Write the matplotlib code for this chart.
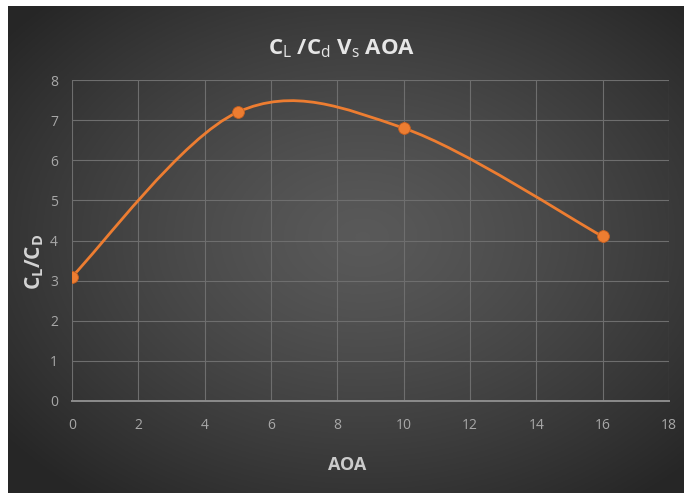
import numpy as np
import matplotlib.pyplot as plt
from matplotlib.path import Path
from matplotlib.patches import PathPatch

# --- Data ---
aoa = [0, 5, 10, 16]
cl_cd = [3.1, 7.2, 6.8, 4.1]
x_ticks = [0, 2, 4, 6, 8, 10, 12, 14, 16, 18]
y_ticks = [0, 1, 2, 3, 4, 5, 6, 7, 8]

ORANGE = "#ED7D31"
FAM = "Open Sans"

plt.rcParams["font.family"] = [FAM, "DejaVu Sans"]
plt.rcParams["mathtext.fontset"] = "custom"
plt.rcParams["mathtext.rm"] = FAM
plt.rcParams["mathtext.bf"] = FAM + ":bold"


def smooth_path(xs, ys):
    # Catmull-Rom style cubic Bezier through the points (office "smoothed line")
    pts = np.column_stack([xs, ys]).astype(float)
    ext = np.vstack([pts[0], pts, pts[-1]])
    verts = [tuple(pts[0])]
    codes = [Path.MOVETO]
    for i in range(len(pts) - 1):
        p0, p1, p2, p3 = ext[i], ext[i + 1], ext[i + 2], ext[i + 3]
        c1 = p1 + (p2 - p0) / 6.0
        c2 = p2 - (p3 - p1) / 6.0
        verts += [tuple(c1), tuple(c2), tuple(p2)]
        codes += [Path.CURVE4] * 3
    return Path(verts, codes)


W, H = 684, 493
fig = plt.figure(figsize=(W / 100, H / 100), dpi=100, facecolor="white")

# dark radial-gradient backdrop
bg = fig.add_axes([8 / W, 0, (W - 8) / W, (H - 6) / H])
bg.set_axis_off()
gx, gy = np.meshgrid(np.linspace(-1, 1, 400), np.linspace(-1, 1, 300))
r = np.sqrt((gx - 0.05) ** 2 + (gy + 0.05) ** 2)
shade = 0.35 - 0.2 * np.clip(r / 1.35, 0, 1) ** 1.3
bg.imshow(np.dstack([shade] * 3), aspect="auto", extent=[0, 1, 0, 1])
bg.set_xlim(0, 1)
bg.set_ylim(0, 1)

ax = fig.add_axes([72 / W, 1 - 401 / H, 597 / W, 321 / H])
ax.set_facecolor("none")
ax.set_xlim(0, 18)
ax.set_ylim(0, 8)
ax.set_xticks(x_ticks)
ax.set_yticks(y_ticks)
ax.grid(True, color="#6e6e6e", linewidth=0.8)
ax.set_axisbelow(True)
for side in ["top", "right", "left"]:
    ax.spines[side].set_visible(False)
ax.spines["bottom"].set_color("#8c8c8c")
ax.spines["bottom"].set_linewidth(1.4)
ax.tick_params(length=0, colors="#a8a8a8", labelsize=10)
ax.tick_params(axis="x", pad=12)
ax.tick_params(axis="y", pad=10)

ax.add_patch(PathPatch(smooth_path(aoa, cl_cd), facecolor="none",
                       edgecolor=ORANGE, linewidth=2, zorder=3))
ax.plot(aoa, cl_cd, linestyle="none", marker="o", markersize=8.5,
        markerfacecolor=ORANGE, markeredgecolor="#c8601f",
        markeredgewidth=0.6, zorder=4)

fig.text(0.5, 1 - 49 / H, r"C$_\mathrm{L}$ /C$_\mathrm{d}$ V$_\mathrm{s}$ AOA",
         ha="center", va="center", fontsize=16, fontweight="bold", color="#e6e6e6")
fig.text(347 / W, 1 - 465 / H, "AOA", ha="center", va="center",
         fontsize=13, fontweight="bold", color="#cccccc")
fig.text(35 / W, 1 - 262 / H, r"C$_\mathbf{L}$/C$_\mathbf{D}$",
         ha="center", va="center", rotation=90, fontsize=15,
         fontweight="bold", color="#d4d4d4")

fig.savefig("out.png", dpi=100, facecolor="white")
